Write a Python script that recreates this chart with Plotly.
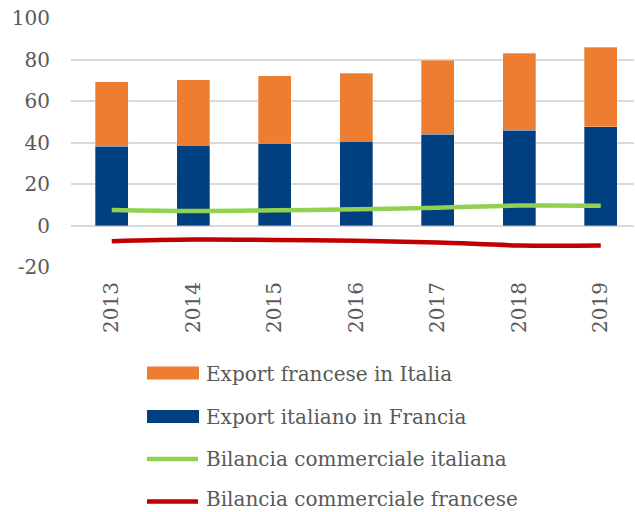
import plotly.graph_objects as go

years = ["2013", "2014", "2015", "2016", "2017", "2018", "2019"]
export_italiano = [38.3, 38.6, 39.6, 40.6, 44.0, 46.0, 47.7]
export_francese = [30.9, 31.6, 32.5, 32.8, 35.7, 36.9, 38.1]
bilancia_italiana = [7.5, 7.0, 7.3, 7.8, 8.6, 9.6, 9.5]
bilancia_francese = [-7.6, -6.8, -7.0, -7.4, -8.2, -9.6, -9.6]
y_tick_values = [-20, 0, 20, 40, 60, 80, 100]
y_tick_labels = ["-20", "0", "20", "40", "60", "80", "100"]

names = ["Export francese in Italia", "Export italiano in Francia",
         "Bilancia commerciale italiana", "Bilancia commerciale francese"]
colors = ["#ED7D31", "#003F80", "#92D050", "#C00000"]

FONT = "DejaVu Serif"
GREY = "#595959"

fig = go.Figure()
fig.add_trace(go.Bar(x=years, y=export_italiano, name=names[1],
                     marker=dict(color=colors[1], line=dict(color="rgba(255,255,255,0.6)", width=0.5)),
                     showlegend=False))
fig.add_trace(go.Bar(x=years, y=export_francese, name=names[0],
                     marker=dict(color=colors[0], line=dict(color="rgba(255,255,255,0.6)", width=0.5)),
                     showlegend=False))
fig.add_trace(go.Scatter(x=years, y=bilancia_italiana, name=names[2], mode="lines",
                         line=dict(color=colors[2], width=4.5, shape="spline"), showlegend=False))
fig.add_trace(go.Scatter(x=years, y=bilancia_francese, name=names[3], mode="lines",
                         line=dict(color=colors[3], width=4.5, shape="spline"), showlegend=False))

# manual legend below the chart
H, T, B = 512, 18, 245
plot_h = H - T - B
def py(px):
    return (H - B - px) / plot_h

W, L, R = 635, 71, 1
plot_w = W - L - R
def pxx(px):
    return (px - L) / plot_w

rows = [373, 416.5, 459, 501.5]
text_rows = [373.5, 417, 459.5, 499]
shapes = []
annotations = []
for i, (nm, col, yc, yt) in enumerate(zip(names, colors, rows, text_rows)):
    if i < 2:
        shapes.append(dict(type="rect", xref="paper", yref="paper",
                           x0=pxx(147), x1=pxx(199), y0=py(yc - 6.5), y1=py(yc + 6.5),
                           fillcolor=col, line=dict(width=0)))
    else:
        shapes.append(dict(type="line", xref="paper", yref="paper",
                           x0=pxx(147), x1=pxx(198), y0=py(yc), y1=py(yc),
                           line=dict(color=col, width=4.5)))
    annotations.append(dict(text=nm, xref="paper", yref="paper", x=pxx(204), y=py(yt),
                            xanchor="left", yanchor="middle", showarrow=False,
                            font=dict(family=FONT, size=20, color=GREY)))

fig.update_layout(
    width=W, height=H,
    margin=dict(l=L, r=R, t=T, b=B),
    paper_bgcolor="white", plot_bgcolor="white",
    barmode="stack", bargap=0.595,
    font=dict(family=FONT, size=20, color=GREY),
    shapes=shapes, annotations=annotations,
    xaxis=dict(range=[-0.5, 6.408], tickangle=-90, showgrid=False, showline=False,
               ticks="", ticklabelstandoff=10, tickfont=dict(family=FONT, size=20, color=GREY)),
    yaxis=dict(range=[-20, 100], tickmode="array", tickvals=y_tick_values, ticktext=y_tick_labels,
               showgrid=True, gridcolor="#D9D9D9", gridwidth=1.5,
               zeroline=True, zerolinecolor="#D9D9D9", zerolinewidth=1.5,
               showline=False, ticks="", ticklabelstandoff=20,
               tickfont=dict(family=FONT, size=20, color=GREY)),
)

fig.write_html("out.html")
